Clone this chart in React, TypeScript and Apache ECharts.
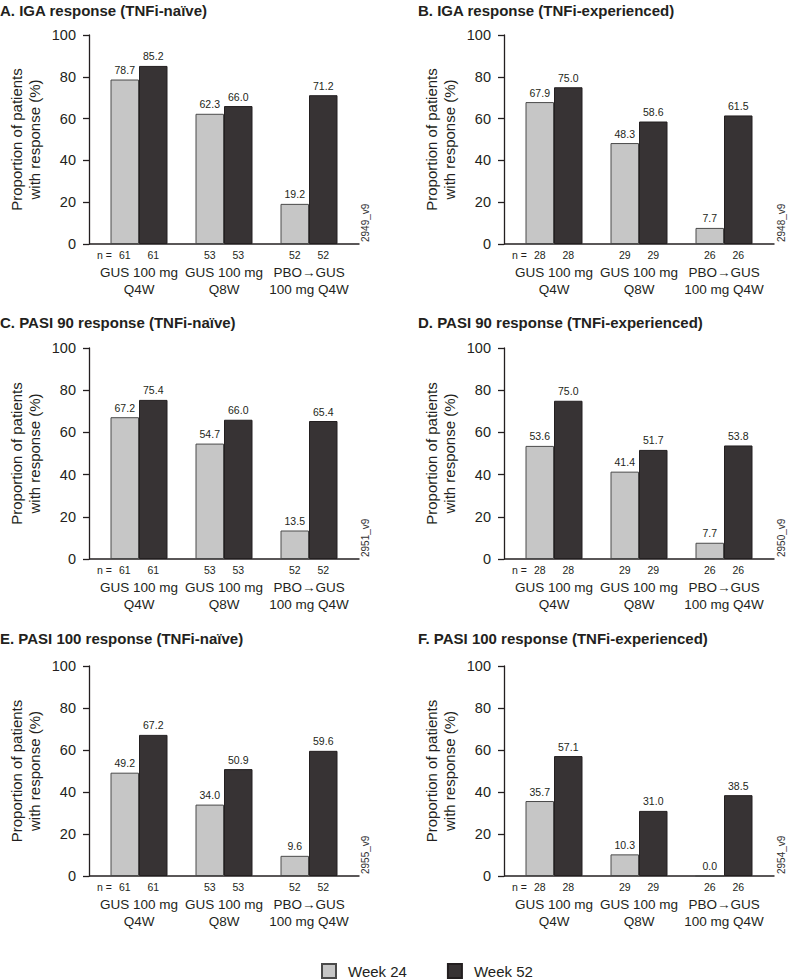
import React, { useEffect, useRef } from "react";
import * as echarts from "echarts";

// ---------- data ----------
const categories = ["GUS 100 mg\nQ4W", "GUS 100 mg\nQ8W", "PBO→GUS\n100 mg Q4W"];
const seriesNames = ["Week 24", "Week 52"];

const panelTitles = [
  "A. IGA response (TNFi-naïve)",
  "B. IGA response (TNFi-experienced)",
  "C. PASI 90 response (TNFi-naïve)",
  "D. PASI 90 response (TNFi-experienced)",
  "E. PASI 100 response (TNFi-naïve)",
  "F. PASI 100 response (TNFi-experienced)",
];
const panelCodes = ["2949_v9", "2948_v9", "2951_v9", "2950_v9", "2955_v9", "2954_v9"];

const igaNaiveW24 = [78.7, 62.3, 19.2];
const igaNaiveW52 = [85.2, 66.0, 71.2];
const igaExpW24 = [67.9, 48.3, 7.7];
const igaExpW52 = [75.0, 58.6, 61.5];
const pasi90NaiveW24 = [67.2, 54.7, 13.5];
const pasi90NaiveW52 = [75.4, 66.0, 65.4];
const pasi90ExpW24 = [53.6, 41.4, 7.7];
const pasi90ExpW52 = [75.0, 51.7, 53.8];
const pasi100NaiveW24 = [49.2, 34.0, 9.6];
const pasi100NaiveW52 = [67.2, 50.9, 59.6];
const pasi100ExpW24 = [35.7, 10.3, 0.0];
const pasi100ExpW52 = [57.1, 31.0, 38.5];

const nNaive = [61, 53, 52];
const nExperienced = [28, 29, 26];

const yMin = 0;
const yMax = 100;
const yInterval = 20;
const yAxisName = "Proportion of patients\nwith response (%)";

const panelW24 = [igaNaiveW24, igaExpW24, pasi90NaiveW24, pasi90ExpW24, pasi100NaiveW24, pasi100ExpW24];
const panelW52 = [igaNaiveW52, igaExpW52, pasi90NaiveW52, pasi90ExpW52, pasi100NaiveW52, pasi100ExpW52];
const panelN = [nNaive, nExperienced, nNaive, nExperienced, nNaive, nExperienced];

// ---------- layout / style ----------
const FONT = "'Liberation Sans', Arial, Helvetica, sans-serif";
const TEXT = "#231f20";
const LIGHT = "#c6c6c6";
const DARK = "#373334";
const COL_AXIS_X = [89, 504];
const SPAN_PAD = 7.5;
const SPAN_W = 255;
const ROW_TOP = [35, 348, 666];
const ROW_H = [209, 211, 210];
const TITLE_X = [0, 418];
const TITLE_Y = [10, 322, 638];
const CODE_X = [365, 781];
const BAR_W = 28.5;

export default function App() {
  const ref = useRef<HTMLDivElement>(null);

  useEffect(() => {
    document.body.style.margin = "0";
    if (!ref.current) return;
    const chart = echarts.init(ref.current, undefined, { renderer: "svg" });

    const grids: any[] = [];
    const xAxes: any[] = [];
    const yAxes: any[] = [];
    const series: any[] = [];
    const graphics: any[] = [];

    panelTitles.forEach((title, i) => {
      const c = i % 2;
      const r = Math.floor(i / 2);
      const axisX = COL_AXIS_X[c];
      const bottom = ROW_TOP[r] + ROW_H[r];
      const nArr = panelN[i];

      grids.push({ left: axisX + SPAN_PAD, top: ROW_TOP[r], width: SPAN_W, height: ROW_H[r] });

      xAxes.push({
        gridIndex: i,
        type: "category",
        data: categories,
        axisLine: { show: false },
        axisTick: { show: false },
        axisLabel: {
          interval: 0,
          margin: 2,
          color: TEXT,
          fontFamily: FONT,
          formatter: (value: string, idx: number) => {
            const lines = value.split("\n");
            return `{n|${nArr[idx]}}{n|${nArr[idx]}}\n` + lines.map((l) => `{c|${l}}`).join("\n");
          },
          rich: {
            n: { fontSize: 10.5, width: BAR_W, align: "center", lineHeight: 18, color: TEXT, fontFamily: FONT },
            c: { fontSize: 13.5, lineHeight: 17, color: TEXT, fontFamily: FONT },
          },
        },
      });

      yAxes.push({
        gridIndex: i,
        type: "value",
        min: yMin,
        max: yMax,
        interval: yInterval,
        offset: SPAN_PAD,
        axisLine: { show: true, lineStyle: { color: TEXT, width: 1.3 } },
        axisTick: { show: true, length: 6, lineStyle: { color: TEXT, width: 1.3 } },
        axisLabel: { fontSize: 14.5, color: TEXT, margin: 13, fontFamily: FONT },
        splitLine: { show: false },
        name: yAxisName,
        nameLocation: "middle",
        nameGap: 46,
        nameTextStyle: { fontSize: 15, lineHeight: 18, color: TEXT, fontFamily: FONT },
      });

      [panelW24[i], panelW52[i]].forEach((vals, k) => {
        series.push({
          type: "bar",
          name: seriesNames[k],
          xAxisIndex: i,
          yAxisIndex: i,
          data: vals,
          barWidth: BAR_W,
          barGap: "0%",
          itemStyle: {
            color: k === 0 ? LIGHT : DARK,
            borderColor: k === 0 ? "#4a4a4a" : "#231f20",
            borderWidth: 1,
          },
          label: {
            show: true,
            position: "top",
            distance: 4,
            fontSize: 10.5,
            color: TEXT,
            fontFamily: FONT,
            formatter: (p: any) => Number(p.value).toFixed(1),
          },
        });
      });

      // title
      graphics.push({
        type: "text",
        x: TITLE_X[c],
        y: TITLE_Y[r],
        style: {
          text: title,
          fontSize: 15,
          fontWeight: "bold",
          fontFamily: FONT,
          fill: TEXT,
          textVerticalAlign: "middle",
        },
      });
      // x baseline
      graphics.push({
        type: "line",
        shape: { x1: axisX, y1: bottom, x2: axisX + SPAN_PAD + SPAN_W + 8, y2: bottom },
        style: { stroke: TEXT, lineWidth: 1.3 },
      });
      // n =
      graphics.push({
        type: "text",
        x: axisX + 8,
        y: bottom + 11,
        style: { text: "n =", fontSize: 10.5, fontFamily: FONT, fill: TEXT, textVerticalAlign: "middle" },
      });
      // code label
      graphics.push({
        type: "text",
        x: CODE_X[c],
        y: bottom - 2,
        rotation: Math.PI / 2,
        style: {
          text: panelCodes[i],
          fontSize: 10,
          fontFamily: FONT,
          fill: "#333",
          textAlign: "left",
          textVerticalAlign: "middle",
        },
      });
    });

    chart.setOption({
      animation: false,
      textStyle: { fontFamily: FONT },
      grid: grids,
      xAxis: xAxes,
      yAxis: yAxes,
      series,
      legend: {
        data: seriesNames,
        left: 321,
        top: 963,
        padding: 0,
        icon: "rect",
        itemWidth: 14,
        itemHeight: 14,
        itemGap: 40,
        textStyle: { fontSize: 15, color: TEXT, fontFamily: FONT, padding: [0, 0, 0, 7] },
      },
      graphic: graphics,
    });

    return () => chart.dispose();
  }, []);

  return <div ref={ref} style={{ width: 788, height: 979 }} />;
}
